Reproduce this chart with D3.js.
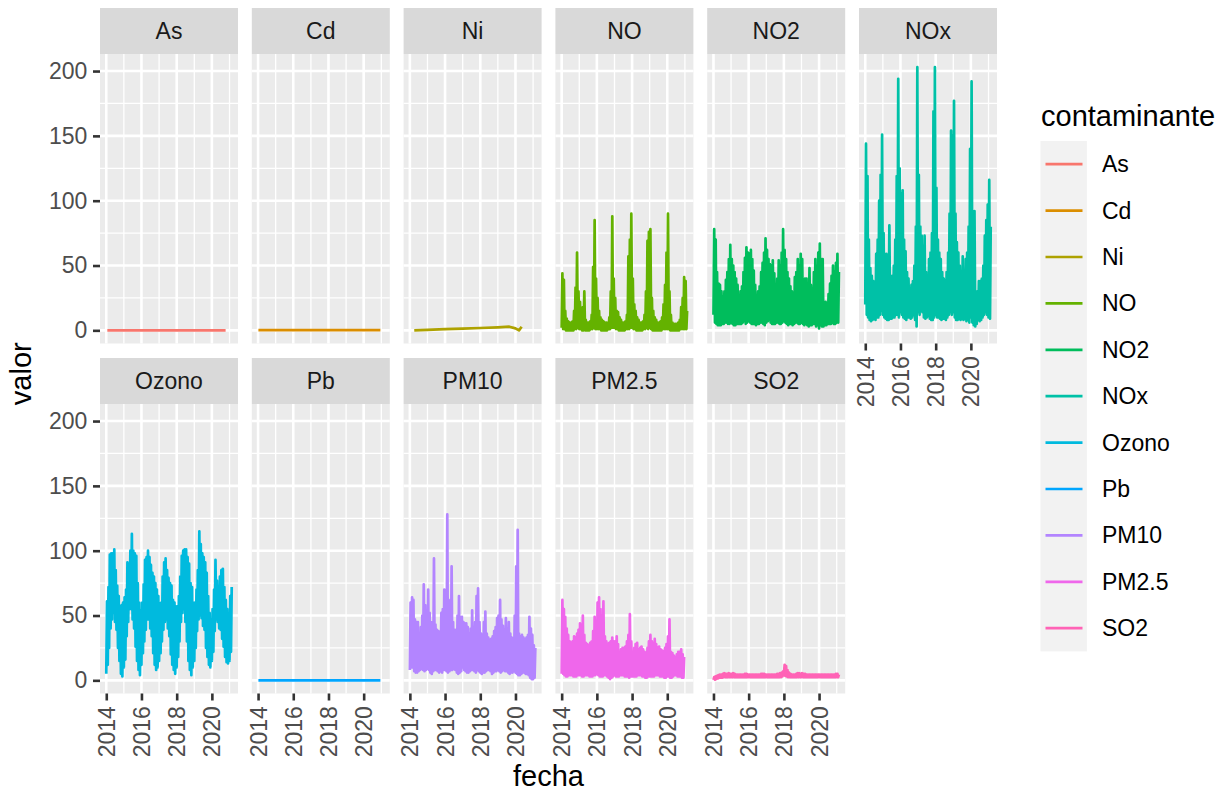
<!DOCTYPE html>
<html>
<head>
<meta charset="utf-8">
<script src="https://cdn.jsdelivr.net/npm/d3@7"></script>
<style>
  body { margin: 0; background: #ffffff; }
  text { font-family: "Liberation Sans", Arial, Helvetica, sans-serif; }
</style>
</head>
<body>
<svg id="chart"></svg>
<script>
const width = 1225;
const height = 795;

const contaminantes = ["As", "Cd", "Ni", "NO", "NO2", "NOx", "Ozono", "Pb", "PM10", "PM2.5", "SO2"];
const colores = ["#F8766D", "#DB8E00", "#AEA200", "#64B200", "#00BD5C", "#00C1A7",
                 "#00BADE", "#00A6FF", "#B385FF", "#EF67EB", "#FF63B6"];
const anios = [2014, 2016, 2018, 2020];
const aniosMenor = [2013, 2015, 2017, 2019, 2021];
const valorTicks = [0, 50, 100, 150, 200];
const valorMenor = [25, 75, 125, 175];

// monthly max / min, first month = Jan 2014
const noxAlto = [144, 119, 70, 48, 42, 38, 36, 59, 70, 100, 120, 151,
                 75, 59, 59, 55, 81, 40, 42, 50, 70, 119, 194, 125,
                 105, 108, 70, 61, 45, 40, 32, 35, 38, 50, 80, 203,
                 120, 80, 73, 65, 73, 45, 42, 55, 60, 75, 169, 203,
                 110, 70, 60, 55, 45, 40, 38, 45, 60, 90, 154, 150,
                 177, 90, 68, 60, 50, 45, 57, 45, 55, 60, 80, 140,
                 192, 80, 92, 28, 30, 38, 38, 40, 50, 73, 85, 97,
                 116, 80];
const noxBajo = [20, 12, 10, 8, 7, 8, 9, 8, 10, 10, 12, 15,
                 12, 10, 9, 8, 8, 9, 9, 10, 10, 12, 12, 10,
                 14, 12, 10, 9, 8, 10, 10, 9, 10, 12, 8, 3,
                 14, 12, 15, 14, 10, 9, 10, 11, 9, 8, 8, 10,
                 12, 10, 10, 9, 8, 9, 9, 8, 10, 12, 14, 12,
                 14, 10, 8, 8, 9, 8, 9, 8, 9, 7, 8, 6,
                 10, 6, 4, 3, 5, 8, 7, 8, 10, 12, 14, 12,
                 10, 9];

const noAlto = [44, 39, 15, 9, 7, 6, 6, 7, 15, 33, 60, 30,
                22, 15, 18, 30, 8, 6, 6, 7, 12, 49, 85, 40,
                25, 15, 10, 8, 7, 6, 6, 6, 10, 30, 88, 40,
                25, 15, 14, 10, 8, 6, 6, 7, 12, 57, 70, 90,
                40, 20, 15, 10, 8, 6, 6, 7, 12, 30, 69, 76,
                78, 25, 15, 10, 8, 6, 6, 7, 10, 20, 35, 60,
                90, 30, 12, 6, 5, 5, 5, 6, 8, 18, 25, 41,
                38, 15];
const noBajo = [2, 1, 1, 0, 0, 0, 0, 0, 0, 1, 1, 2,
                1, 1, 0, 0, 0, 0, 0, 0, 1, 1, 2, 1,
                1, 1, 1, 0, 0, 0, 0, 0, 1, 1, 2, 2,
                2, 1, 1, 0, 0, 0, 0, 0, 1, 1, 1, 2,
                2, 1, 1, 0, 0, 0, 0, 0, 1, 1, 2, 1,
                2, 1, 0, 0, 0, 0, 0, 0, 0, 1, 1, 1,
                1, 1, 0, 0, 0, 0, 0, 0, 0, 1, 1, 1,
                1, 1];

const no2Alto = [78, 70, 45, 36, 35, 30, 26, 30, 39, 45, 55, 66,
                 55, 50, 45, 40, 35, 26, 30, 34, 45, 56, 64, 60,
                 59, 62, 55, 46, 35, 26, 30, 34, 45, 52, 60, 71,
                 62, 55, 51, 50, 54, 44, 34, 40, 54, 50, 60, 78,
                 62, 55, 45, 40, 34, 30, 28, 41, 45, 55, 50, 59,
                 55, 38, 40, 40, 35, 48, 35, 31, 45, 55, 50, 60,
                 67, 55, 55, 20, 22, 20, 28, 36, 42, 50, 45, 52,
                 59, 45];
const no2Bajo = [12, 6, 5, 4, 4, 4, 5, 5, 6, 6, 5, 5,
                 6, 5, 4, 4, 5, 5, 5, 5, 6, 7, 5, 6,
                 7, 6, 5, 5, 5, 4, 5, 5, 6, 6, 5, 4,
                 6, 7, 8, 6, 5, 5, 5, 6, 6, 5, 5, 6,
                 7, 6, 5, 4, 5, 5, 4, 5, 6, 6, 5, 5,
                 6, 5, 4, 5, 4, 3, 4, 4, 5, 5, 3, 4,
                 1.5, 4, 3, 3, 4, 4, 5, 5, 5, 6, 5, 5,
                 6, 6];

const ozonoAlto = [61, 72, 97, 98, 98, 101, 85, 73, 65, 57, 58, 60,
                   64, 70, 91, 90, 100, 113, 100, 98, 96, 75, 60, 54,
                   60, 74, 93, 95, 100, 95, 89, 83, 80, 75, 70, 65,
                   59, 60, 80, 91, 94, 85, 79, 75, 73, 62, 60, 57,
                   57, 65, 80, 96, 100, 101, 101, 95, 90, 75, 72, 60,
                   60, 70, 85, 115, 105, 98, 95, 91, 83, 65, 52, 47,
                   55, 70, 93, 77, 72, 80, 85, 86, 72, 62, 55, 50,
                   65, 72];
const ozonoBajo = [5, 12, 25, 40, 47, 52, 45, 39, 25, 15, 5, 3,
                   10, 16, 34, 45, 55, 55, 47, 40, 26, 15, 8, 4,
                   12, 21, 30, 39, 47, 47, 40, 34, 21, 12, 8, 10,
                   15, 21, 30, 39, 45, 47, 40, 34, 20, 12, 8, 5,
                   10, 18, 30, 45, 52, 55, 45, 30, 15, 8, 4, 10,
                   15, 25, 38, 47, 50, 48, 42, 39, 25, 18, 12, 10,
                   15, 22, 38, 47, 45, 40, 39, 32, 26, 18, 14, 13,
                   15, 22];

const pm10Alto = [60, 64, 62, 47, 45, 45, 36, 41, 50, 74, 58, 54,
                  70, 52, 45, 43, 94, 43, 39, 38, 36, 52, 55, 70,
                  67, 128, 62, 51, 88, 45, 39, 39, 50, 65, 49, 49,
                  45, 44, 44, 41, 36, 40, 54, 36, 45, 65, 71, 45,
                  36, 34, 45, 53, 36, 33, 31, 32, 34, 38, 41, 48,
                  50, 62, 47, 42, 39, 48, 40, 45, 36, 33, 31, 50,
                  88, 116, 36, 34, 35, 33, 31, 33, 35, 49, 40, 35,
                  27, 25];
const pm10Bajo = [8, 10, 10, 7, 6, 6, 7, 8, 9, 8, 7, 8,
                  9, 8, 6, 5, 7, 8, 8, 7, 6, 7, 6, 8,
                  8, 7, 6, 7, 8, 8, 9, 8, 6, 5, 6, 7,
                  10, 8, 7, 6, 6, 7, 8, 8, 7, 6, 8, 7,
                  6, 5, 6, 6, 7, 8, 8, 7, 5, 6, 7, 7,
                  8, 7, 6, 7, 8, 7, 7, 6, 5, 6, 6, 7,
                  6, 5, 4, 4, 5, 6, 6, 5, 5, 4, 2, 1,
                  1, 2];

const pm25Alto = [62, 55, 49, 40, 35, 30, 29, 30, 34, 33, 36, 39,
                  44, 42, 50, 35, 29, 28, 27, 29, 30, 38, 49, 45,
                  60, 64, 55, 50, 61, 34, 30, 28, 29, 30, 33, 30,
                  30, 34, 28, 21, 24, 25, 25, 26, 30, 35, 51, 30,
                  21, 25, 28, 29, 24, 25, 26, 24, 22, 21, 25, 30,
                  35, 30, 28, 32, 28, 25, 26, 24, 23, 22, 25, 28,
                  34, 47, 22, 21, 19, 18, 20, 22, 22, 24, 20, 18];
const pm25Bajo = [5, 5, 4, 3, 3, 4, 4, 4, 3, 3, 3, 4,
                  4, 4, 3, 3, 4, 4, 4, 3, 3, 3, 4, 4,
                  5, 4, 3, 3, 3, 4, 4, 3, 2, 1, 2, 3,
                  4, 3, 3, 3, 4, 4, 4, 3, 3, 3, 2, 3,
                  3, 3, 3, 3, 4, 4, 4, 3, 3, 2, 2, 3,
                  3, 3, 3, 3, 4, 4, 4, 3, 3, 3, 2, 2,
                  3, 3, 2, 2, 3, 4, 4, 3, 3, 3, 2, 2];

const so2Alto = [2.5, 3, 3.5, 4, 4.5, 4.5, 5, 5.5, 5, 5, 5.5, 5,
                 5, 5.5, 5, 4.5, 4.5, 4.5, 4.5, 4.5, 4.5, 5, 5, 4.5,
                 4.5, 4.5, 4.5, 4.5, 4.5, 4.5, 4.5, 4.5, 5, 5, 5, 4.5,
                 4.5, 4.5, 4.5, 4.5, 4.5, 4.5, 4.5, 5, 5, 5.5, 6, 7,
                 12, 11, 8, 6, 5, 4.5, 4.5, 4.5, 5, 5.5, 5.5, 5,
                 5.5, 5, 5, 4.5, 4.5, 4.5, 4.5, 4.5, 4.5, 4.5, 4.5, 4.5,
                 4.5, 4.5, 4.5, 4.5, 4.5, 4.5, 4.5, 4.5, 4.5, 4.5, 4.5, 5,
                 5, 4.5];
const so2Bajo = [0.3, 0.5, 1, 1.5, 2, 2, 2, 2.5, 2.5, 2.5, 2.5, 2.5,
                 2.5, 2.5, 2.5, 2.5, 2.5, 2.5, 2.5, 2.5, 2.5, 2.5, 2.5, 2.5,
                 2.5, 2.5, 2.5, 2.5, 2.5, 2.5, 2.5, 2.5, 2.5, 2.5, 2.5, 2.5,
                 2.5, 2.5, 2.5, 2.5, 2.5, 2.5, 2.5, 2.5, 2.5, 2.5, 2.5, 3,
                 4, 3.5, 3, 2.5, 2.5, 2.5, 2.5, 2.5, 2.5, 2.5, 2.5, 2.5,
                 2.5, 2.5, 2.5, 2.5, 2.5, 2.5, 2.5, 2.5, 2.5, 2.5, 2.5, 2.5,
                 2.5, 2.5, 2.5, 2.5, 2.5, 2.5, 2.5, 2.5, 2.5, 2.5, 2.5, 2.5,
                 2.5, 2.5];

// sparse series (decimal year, value)
const niFecha = [2014.25, 2015, 2016, 2017, 2018, 2019, 2019.65, 2020.0, 2020.2, 2020.35];
const niValor = [0.0, 0.4, 0.9, 1.3, 1.8, 2.3, 2.8, 1.5, 0.0, 2.8];
const asFecha = [2014.06, 2015, 2016, 2017, 2018, 2019, 2020, 2020.78];
const asValor = [0, 0, 0, 0, 0, 0, 0, 0];
const cdFecha = [2014.02, 2015, 2016, 2017, 2018, 2019, 2020, 2020.95];
const cdValor = [0.1, 0.1, 0.1, 0.1, 0.1, 0.1, 0.1, 0.1];
const pbFecha = [2014.02, 2015, 2016, 2017, 2018, 2019, 2020, 2020.95];
const pbValor = [0, 0, 0, 0, 0, 0, 0, 0];

function mensual(alto, bajo) {
    const pts = [];
    alto.forEach(function (a, i) {
        pts.push({ fecha: new Date(2014, i, 1), valor: bajo[i] });
        pts.push({ fecha: new Date(2014, i, 16), valor: a });
    });
    return pts;
}

function puntual(fechas, valores) {
    return fechas.map(function (f, i) {
        const y = Math.floor(f);
        return { fecha: new Date(y, 0, 1 + Math.round((f - y) * 365)), valor: valores[i] };
    });
}

const series = {
    "As": puntual(asFecha, asValor),
    "Cd": puntual(cdFecha, cdValor),
    "Ni": puntual(niFecha, niValor),
    "NO": mensual(noAlto, noBajo),
    "NO2": mensual(no2Alto, no2Bajo),
    "NOx": mensual(noxAlto, noxBajo),
    "Ozono": mensual(ozonoAlto, ozonoBajo),
    "Pb": puntual(pbFecha, pbValor),
    "PM10": mensual(pm10Alto, pm10Bajo),
    "PM2.5": mensual(pm25Alto, pm25Bajo),
    "SO2": mensual(so2Alto, so2Bajo)
};

const svg = d3.select("#chart")
    .attr("width", width)
    .attr("height", height);

// panel geometry (ggplot facet_wrap, 6 columns)
const pw = 138, ph = 289.5, stripH = 46;
const colX = 100, colStep = 151.8;
const rowY = [54, 404];

const todos = Object.values(series).flat();
const xExt = d3.extent(todos, d => d.fecha.getTime());
const xPad = (xExt[1] - xExt[0]) * 0.05;
const x = d3.scaleTime()
    .domain([new Date(xExt[0] - xPad), new Date(xExt[1] + xPad)])
    .range([0, pw]);

const yExt = d3.extent(todos, d => d.valor);
const yPad = (yExt[1] - yExt[0]) * 0.05;
const y = d3.scaleLinear()
    .domain([yExt[0] - yPad, yExt[1] + yPad])
    .range([ph, 0]);

const linea = d3.line()
    .x(d => x(d.fecha))
    .y(d => y(d.valor));

const colorDe = d3.scaleOrdinal().domain(contaminantes).range(colores);

contaminantes.forEach(function (c, k) {
    const col = k % 6, row = Math.floor(k / 6);
    const g = svg.append("g")
        .attr("transform", "translate(" + (colX + col * colStep) + "," + rowY[row] + ")");

    g.append("rect")
        .attr("width", pw)
        .attr("height", ph)
        .attr("fill", "#EBEBEB");

    // minor grid
    g.selectAll(".ymenor").data(valorMenor).enter().append("line")
        .attr("x1", 0).attr("x2", pw)
        .attr("y1", d => y(d)).attr("y2", d => y(d))
        .attr("stroke", "#fff").attr("stroke-width", 1.3);
    g.selectAll(".xmenor").data(aniosMenor.filter(a => x(new Date(a, 0, 1)) > 0 && x(new Date(a, 0, 1)) < pw))
        .enter().append("line")
        .attr("x1", d => x(new Date(d, 0, 1))).attr("x2", d => x(new Date(d, 0, 1)))
        .attr("y1", 0).attr("y2", ph)
        .attr("stroke", "#fff").attr("stroke-width", 1.3);

    // major grid
    g.selectAll(".ymayor").data(valorTicks).enter().append("line")
        .attr("x1", 0).attr("x2", pw)
        .attr("y1", d => y(d)).attr("y2", d => y(d))
        .attr("stroke", "#fff").attr("stroke-width", 2.6);
    g.selectAll(".xmayor").data(anios).enter().append("line")
        .attr("x1", d => x(new Date(d, 0, 1))).attr("x2", d => x(new Date(d, 0, 1)))
        .attr("y1", 0).attr("y2", ph)
        .attr("stroke", "#fff").attr("stroke-width", 2.6);

    // strip
    g.append("rect")
        .attr("y", -stripH)
        .attr("width", pw)
        .attr("height", stripH)
        .attr("fill", "#D9D9D9");
    g.append("text")
        .attr("x", pw / 2)
        .attr("y", -stripH / 2)
        .attr("text-anchor", "middle")
        .attr("dominant-baseline", "central")
        .attr("font-size", 23)
        .attr("fill", "#1A1A1A")
        .text(c);

    g.append("path")
        .datum(series[c])
        .attr("d", linea)
        .attr("fill", "none")
        .attr("stroke", colorDe(c))
        .attr("stroke-width", 2.7)
        .attr("stroke-linejoin", "round")
        .attr("stroke-linecap", "butt");

    if (col === 0) {
        const ay = g.append("g")
            .call(d3.axisLeft(y).tickValues(valorTicks).tickSize(7).tickPadding(5.7));
        ay.select(".domain").remove();
        ay.selectAll("line").attr("stroke", "#333333").attr("stroke-width", 2.6);
        ay.selectAll("text").attr("font-size", 23).attr("fill", "#4D4D4D")
            .style("font-family", "'Liberation Sans', Arial, sans-serif");
    }

    if (row === 1 || col === 5) {
        const ax = g.append("g")
            .attr("transform", "translate(0," + ph + ")")
            .call(d3.axisBottom(x)
                .tickValues(anios.map(a => new Date(a, 0, 1)))
                .tickFormat(d3.timeFormat("%Y"))
                .tickSize(7));
        ax.select(".domain").remove();
        ax.selectAll("line").attr("stroke", "#333333").attr("stroke-width", 2.6);
        ax.selectAll("text")
            .attr("transform", "rotate(-90)")
            .attr("x", -12.7)
            .attr("y", 0)
            .attr("dy", "0.35em")
            .attr("text-anchor", "end")
            .attr("font-size", 23)
            .attr("fill", "#4D4D4D")
            .style("font-family", "'Liberation Sans', Arial, sans-serif");
    }
});

// axis titles
svg.append("text")
    .attr("transform", "translate(21," + ((rowY[0] + rowY[1] + ph) / 2) + ") rotate(-90)")
    .attr("text-anchor", "middle")
    .attr("dominant-baseline", "central")
    .attr("font-size", 29)
    .attr("fill", "#000")
    .text("valor");

svg.append("text")
    .attr("x", colX + (5 * colStep + pw) / 2)
    .attr("y", 786)
    .attr("text-anchor", "middle")
    .attr("font-size", 29)
    .attr("fill", "#000")
    .text("fecha");

// legend
const keyH = 46.4;
const leyenda = svg.append("g");
leyenda.append("text")
    .attr("x", 1041)
    .attr("y", 126)
    .attr("font-size", 29)
    .attr("fill", "#000")
    .text("contaminante");
leyenda.append("rect")
    .attr("x", 1040.5)
    .attr("y", 141)
    .attr("width", keyH)
    .attr("height", keyH * contaminantes.length)
    .attr("fill", "#F2F2F2");
const item = leyenda.selectAll(".item")
    .data(contaminantes)
    .enter()
    .append("g")
    .attr("transform", (d, i) => "translate(0," + (141 + keyH / 2 + keyH * i) + ")");
item.append("line")
    .attr("x1", 1045.5).attr("x2", 1082.5)
    .attr("stroke", d => colorDe(d))
    .attr("stroke-width", 2.7);
item.append("text")
    .attr("x", 1102)
    .attr("dominant-baseline", "central")
    .attr("font-size", 23)
    .attr("fill", "#000")
    .text(d => d);
</script>
</body>
</html>
